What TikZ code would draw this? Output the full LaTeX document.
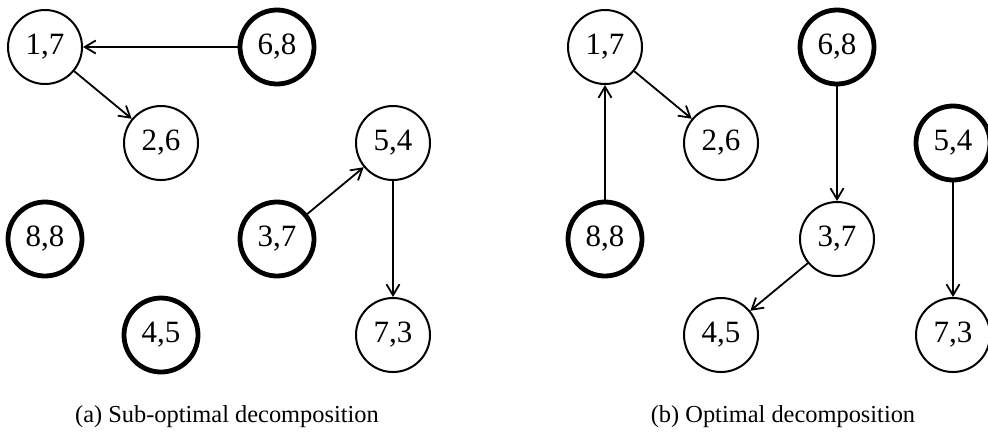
\documentclass[tikz,border=0pt]{standalone}
\usepackage{fontspec}
\setmainfont{Liberation Serif}
\usetikzlibrary{automata,positioning,arrows.meta}

\begin{document}
\begin{tikzpicture}[->,>={Straight Barb[length=5.5pt,width=6.5pt]},on grid,node distance=58pt,line width=0.9pt]
\tikzstyle{every state}=[fill=white,draw=black,text=black,minimum size=37pt,inner sep=0pt,line width=1pt,font=\fontsize{15.5}{18}\selectfont]
\tikzstyle{root}=[line width=2.4pt]
\tikzstyle{caption}=[anchor=base,font=\fontsize{12.2}{14}\selectfont]
\useasboundingbox (-22.5pt,23.5pt) rectangle (471.5pt,-200pt);
% (a) sub-optimal
\node[state] (A17) {1,7};
\node[state,root] (A68) [right=116pt of A17] {6,8};
\node[state] (A26) [below right=48pt and 58pt of A17] {2,6};
\node[state] (A54) [right=116pt of A26] {5,4};
\node[state,root] (A88) [below left=48pt and 58pt of A26] {8,8};
\node[state,root] (A37) [right=116pt of A88] {3,7};
\node[state,root] (A45) [below right=48pt and 58pt of A88] {4,5};
\node[state] (A73) [right=116pt of A45] {7,3};
\path
(A68) edge (A17)
(A17) edge (A26)
(A37) edge (A54)
(A54) edge (A73);
% (b) optimal
\node[state] (B17) [right=280pt of A17] {1,7};
\node[state,root] (B68) [right=116pt of B17] {6,8};
\node[state] (B26) [below right=48pt and 58pt of B17] {2,6};
\node[state,root] (B54) [right=116pt of B26] {5,4};
\node[state,root] (B88) [below left=48pt and 58pt of B26] {8,8};
\node[state] (B37) [right=116pt of B88] {3,7};
\node[state] (B45) [below right=48pt and 58pt of B88] {4,5};
\node[state] (B73) [right=116pt of B45] {7,3};
\path
(B88) edge (B17)
(B17) edge (B26)
(B68) edge (B37)
(B37) edge (B45)
(B54) edge (B73);
\node[caption] (capA) at (91pt,-187.5pt) {(a) Sub-optimal decomposition};
\node[caption] (capB) at (369pt,-187.5pt) {(b) Optimal decomposition};
\end{tikzpicture}
\end{document}
